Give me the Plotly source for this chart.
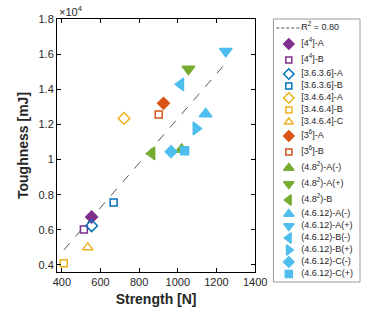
import plotly.graph_objects as go

# ---- data ----
names = ["[4<sup>4</sup>]-A", "[4<sup>4</sup>]-B", "[3.6.3.6]-A", "[3.6.3.6]-B",
         "[3.4.6.4]-A", "[3.4.6.4]-B", "[3.4.6.4]-C", "[3<sup>6</sup>]-A", "[3<sup>6</sup>]-B",
         "(4.8<sup>2</sup>)-A(-)", "(4.8<sup>2</sup>)-A(+)", "(4.8<sup>2</sup>)-B",
         "(4.6.12)-A(-)", "(4.6.12)-A(+)", "(4.6.12)-B(-)", "(4.6.12)-B(+)",
         "(4.6.12)-C(-)", "(4.6.12)-C(+)"]
strength = [554, 514, 554, 668, 722, 410, 534, 926, 901,
            1020, 1055, 866, 1144, 1248, 1015, 1094, 965, 1035]
toughness = [6730, 6020, 6230, 7550, 12340, 4100, 5000, 13200, 12570,
             10570, 15150, 10350, 12600, 16170, 14280, 11770, 10450, 10500]
symbols = ["diamond", "square-open", "diamond-open", "square-open",
           "diamond-open", "square-open", "triangle-up-open", "diamond", "square-open",
           "triangle-up", "triangle-down", "triangle-left",
           "triangle-up", "triangle-down", "triangle-left", "triangle-right",
           "diamond", "square"]
colors = ["#7E2F8E", "#7E2F8E", "#0072BD", "#0072BD",
          "#EDB120", "#EDB120", "#EDB120", "#D95319", "#D95319",
          "#77AC30", "#77AC30", "#77AC30",
          "#4DBEEE", "#4DBEEE", "#4DBEEE", "#4DBEEE", "#4DBEEE", "#4DBEEE"]
sizes = [9, 7, 9, 7, 9, 7, 9, 9, 7, 11, 11, 11, 11, 11, 11, 11, 9, 8]

fit_x = [410, 1248]
fit_y = [4850, 15490]
fit_label = "R<sup>2</sup> = 0.80"

xticks = [400, 600, 800, 1000, 1200, 1400]
yticks = [4000, 6000, 8000, 10000, 12000, 14000, 16000, 18000]
yticklabels = ["0.4", "0.6", "0.8", "1", "1.2", "1.4", "1.6", "1.8"]

FONT = "Liberation Sans, Arial, sans-serif"
TXT = "#262626"

# ---- layout geometry (pixels) ----
W, H = 374, 312
ML, MR, MT, MB = 57, 2, 19, 30
PW = W - ML - MR          # 315
PH = H - MT - MB          # 263
plot_right = 263
plot_bottom = 272
leg_left = 282

fig = go.Figure()

# main fit line
fig.add_trace(go.Scatter(x=fit_x, y=fit_y, mode="lines", showlegend=False,
                         line=dict(color="#555555", width=1, dash="dash"),
                         xaxis="x", yaxis="y"))
# main markers
for n, xv, yv, s, c, sz in zip(names, strength, toughness, symbols, colors, sizes):
    fig.add_trace(go.Scatter(x=[xv], y=[yv], mode="markers", showlegend=False,
                             marker=dict(symbol=s, color=c, size=sz,
                                         line=dict(color=c, width=1.5)),
                             xaxis="x", yaxis="y"))

# ---- custom legend (drawn on its own axes, in pixel units) ----
labels = [fit_label] + names
heights = [16 if "<sup>" in t else 12 for t in labels]
centers = []
pos = 9.0
for i, h in enumerate(heights):
    if i > 0:
        pos += (heights[i - 1] + h) / 2.0
    centers.append(pos)

fig.add_trace(go.Scatter(x=[3, 30], y=[centers[0], centers[0]], mode="lines",
                         line=dict(color="#555555", width=1, dash="3px,2px"),
                         showlegend=False, xaxis="x2", yaxis="y2", hoverinfo="skip"))
for i, (s, c, sz) in enumerate(zip(symbols, colors, sizes)):
    fig.add_trace(go.Scatter(x=[16], y=[centers[i + 1]], mode="markers",
                             marker=dict(symbol=s, color=c, size=round(sz * 0.85),
                                         line=dict(color=c, width=1.5)),
                             showlegend=False, xaxis="x2", yaxis="y2", hoverinfo="skip"))
fig.add_trace(go.Scatter(x=[29] * len(labels), y=centers, mode="text", text=labels,
                         textposition="middle right",
                         textfont=dict(family=FONT, size=9, color=TXT),
                         showlegend=False, xaxis="x2", yaxis="y2", hoverinfo="skip"))

fig.add_shape(type="rect", xref="x2 domain", yref="y2 domain", x0=0, x1=1, y0=0, y1=1,
              line=dict(color="#9a9a9a", width=1), fillcolor="rgba(0,0,0,0)")

axis_common = dict(showline=True, linecolor="black", linewidth=1, mirror="allticks",
                   ticks="inside", ticklen=4, tickcolor="black", showgrid=False,
                   zeroline=False, tickfont=dict(family=FONT, size=11, color=TXT))

fig.update_layout(
    width=W, height=H,
    margin=dict(l=ML, r=MR, t=MT, b=MB),
    plot_bgcolor="white", paper_bgcolor="white",
    showlegend=False,
    xaxis=dict(domain=[0, (plot_right - ML) / PW], range=[375, 1400], tickvals=xticks,
               title=dict(text="<b>Strength [N]</b>",
                          font=dict(family=FONT, size=14, color=TXT), standoff=6),
               anchor="y", **axis_common),
    yaxis=dict(domain=[(MT + PH - plot_bottom) / PH, 1], range=[3600, 18000],
               tickvals=yticks, ticktext=yticklabels,
               title=dict(text="<b>Toughness [mJ]</b>",
                          font=dict(family=FONT, size=14, color=TXT), standoff=6),
               anchor="x", **axis_common),
    xaxis2=dict(domain=[(leg_left - ML) / PW, 1], range=[0, W - MR - leg_left],
                visible=False, fixedrange=True, anchor="y2"),
    yaxis2=dict(domain=[0, 1], range=[PH, 0], visible=False, fixedrange=True, anchor="x2"),
)

fig.add_annotation(text="×10<sup>4</sup>", x=0, y=1, xref="x domain", yref="y domain",
                   xanchor="left", yanchor="bottom", showarrow=False, yshift=-1,
                   font=dict(family=FONT, size=11, color=TXT))

fig.write_html("out.html", config={"displayModeBar": False},
               post_script="document.body.style.margin='0';")
